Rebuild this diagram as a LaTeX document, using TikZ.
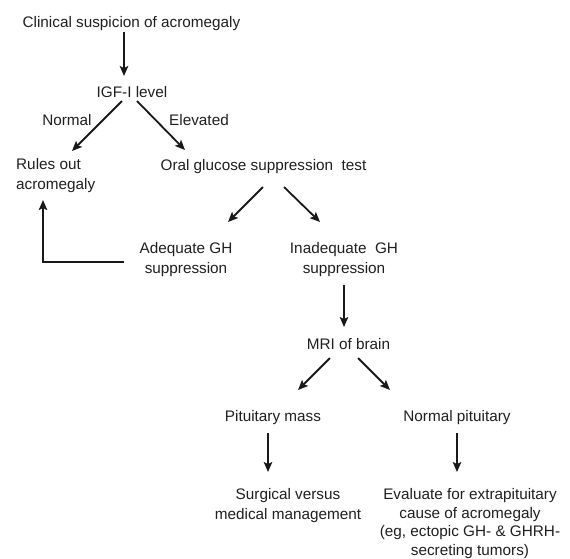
\documentclass[tikz,border=0pt]{standalone}
\usepackage{fontspec}
\setmainfont{Liberation Sans}
\usetikzlibrary{arrows.meta}
\begin{document}
\begin{tikzpicture}[x=1pt,y=-1pt,
  txt/.style={inner sep=0pt, font=\fontsize{15.3}{20}\selectfont, text=black!88},
  arr/.style={-{Stealth[length=10pt,width=8.5pt,inset=2pt]}, line width=1.8pt, draw=black!90}]
\useasboundingbox (0,0) rectangle (570,558);
\node[txt,anchor=base] (clin) at (131.5,27) {Clinical suspicion of acromegaly};
\node[txt,anchor=base] (igf) at (132,97) {IGF-I level};
\node[txt,anchor=base] (lnorm) at (67,125) {Normal};
\node[txt,anchor=base] (lelev) at (199,125) {Elevated};
\node[txt,anchor=north west,align=left] (rules) at (16,158) {Rules out\\acromegaly};
\node[txt,anchor=base] (ogtt) at (263.5,170) {Oral glucose suppression~ test};
\node[txt,anchor=north,align=center] (adeq) at (186,242) {Adequate GH\\suppression};
\node[txt,anchor=north,align=center] (inadeq) at (344,242) {Inadequate~ GH\\suppression};
\node[txt,anchor=base] (mri) at (348.5,349) {MRI of brain};
\node[txt,anchor=base] (pit) at (273,421) {Pituitary mass};
\node[txt,anchor=base] (normpit) at (457,421) {Normal pituitary};
\node[txt,anchor=north,align=center] (surg) at (288,488) {Surgical versus\\medical management};
\node[txt,anchor=north,align=center,font=\fontsize{15.3}{18.8}\selectfont] (eval) at (470,488) {Evaluate for extrapituitary\\cause of acromegaly\\(eg, ectopic GH- \& GHRH-\\secreting tumors)};

\draw[arr] ([xshift=-7.5pt,yshift=-5pt]clin.base) -- ([xshift=-8pt,yshift=21pt]igf.base);
\draw[arr] ([xshift=-10pt,yshift=-4pt]igf.base) -- ([xshift=56pt,yshift=7pt]rules.north west);
\draw[arr] ([xshift=5pt,yshift=-4pt]igf.base) -- ([xshift=-78.5pt,yshift=20pt]ogtt.base);
\draw[arr] ([xshift=-0.5pt,yshift=-17pt]ogtt.base) -- ([xshift=42pt,yshift=20pt]adeq.north);
\draw[arr] ([xshift=20.5pt,yshift=-17pt]ogtt.base) -- ([xshift=-24pt,yshift=20pt]inadeq.north);
\draw[arr] ([xshift=-62pt,yshift=-20pt]adeq.north) -| ([xshift=27pt,yshift=-42pt]rules.north west);
\draw[arr] ([yshift=-43pt]inadeq.north) -- ([xshift=-4.5pt,yshift=22pt]mri.base);
\draw[arr] ([xshift=-18.5pt,yshift=-9pt]mri.base) -- ([xshift=25pt,yshift=31pt]pit.base);
\draw[arr] ([xshift=9.5pt,yshift=-9pt]mri.base) -- ([xshift=-67pt,yshift=31pt]normpit.base);
\draw[arr] ([xshift=-5pt,yshift=-12pt]pit.base) -- ([xshift=-20pt,yshift=16pt]surg.north);
\draw[arr] ([yshift=-12pt]normpit.base) -- ([xshift=-13pt,yshift=16pt]eval.north);
\end{tikzpicture}
\end{document}
